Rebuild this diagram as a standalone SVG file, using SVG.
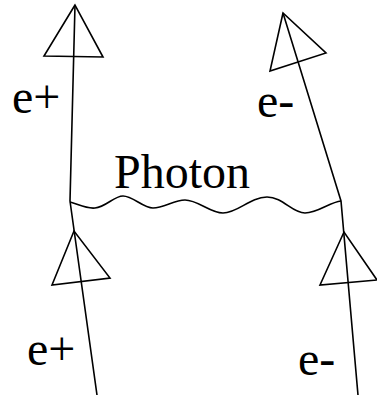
<svg xmlns="http://www.w3.org/2000/svg" width="377" height="395" viewBox="0 0 377 395">
<style>
.ln{fill:none;stroke:#000;stroke-width:1.6;stroke-linejoin:miter}
.lbl{font-family:"Liberation Serif","Times New Roman",serif;font-size:48px;fill:#000}
</style>
<rect width="377" height="395" fill="#fff"/>
<g id="connectors">
<path class="ln" d="M75,5 L70,201 L97,395"/>
<path class="ln" d="M283,13 L341,201 L358,395"/>
<path id="photon" class="ln" d="M70,202 C78,204 86,209 95,208 C106,207 114,196 123,196 C133,196 143,208 153,208 C164,208 174,200 185,200 C198,200 210,213 223,213 C238,213 250,197 267,197 C283,197 292,213 305,213 C318,213 330,202 341,201"/>
</g>
<g id="arrow-top-left"><polygon class="ln" points="75,5 44,56 103,57"/></g>
<g id="arrow-top-right"><polygon class="ln" points="283,13 270,71 326,53"/></g>
<g id="arrow-bottom-left"><polygon class="ln" points="74,231 52,285 110,278"/></g>
<g id="arrow-bottom-right"><polygon class="ln" points="344,232 320,285 377,280"/></g>
<g id="labels">
<text class="lbl" x="12" y="113">e+</text>
<text class="lbl" x="257" y="117">e-</text>
<text class="lbl" x="114" y="188">Photon</text>
<text class="lbl" x="27" y="365">e+</text>
<text class="lbl" x="298" y="375">e-</text>
</g>
</svg>
